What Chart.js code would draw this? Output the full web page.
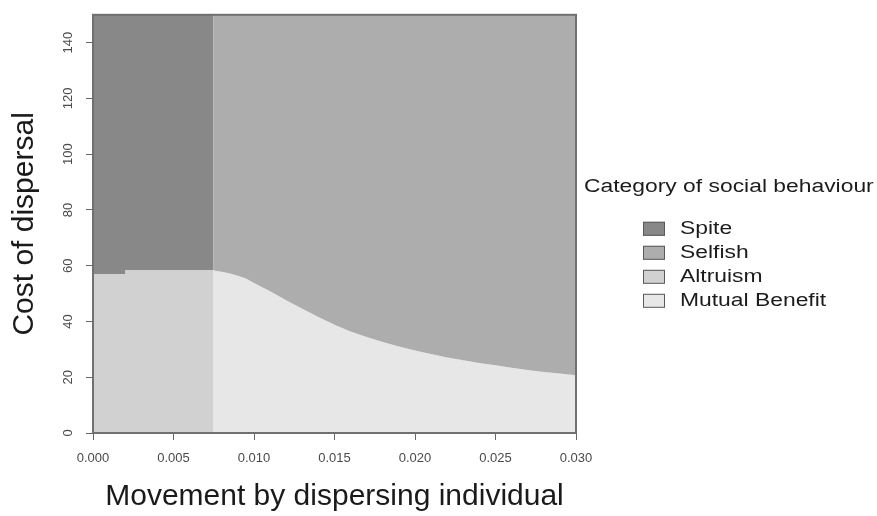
<!DOCTYPE html>
<html>
<head>
<meta charset="utf-8">
<script src="https://cdn.jsdelivr.net/npm/chart.js@4/dist/chart.umd.min.js"></script>
<style>
  html, body { margin: 0; padding: 0; background: #fff; }
  #wrap { width: 877px; height: 516px; }
</style>
</head>
<body>
<div id="wrap"><canvas id="socialChart" width="877" height="516"></canvas></div>
<script>
// boundary between spite (above) and altruism (below), low movement side
const altruismEdgeX = [0.000, 0.002, 0.0075];
const altruismEdgeCost = [57.0, 58.5, 58.5];

// boundary between selfish (above) and mutual benefit (below)
const mutualEdgeX = [0.0075, 0.008, 0.0085, 0.009, 0.0095, 0.010, 0.011, 0.012, 0.013, 0.014,
                     0.015, 0.016, 0.017, 0.018, 0.019, 0.020, 0.021, 0.022, 0.023, 0.024,
                     0.025, 0.026, 0.027, 0.028, 0.029, 0.030];
const mutualEdgeCost = [58.3, 57.8, 57.2, 56.4, 55.4, 53.8, 50.8, 47.6, 44.6, 41.6,
                        38.8, 36.4, 34.4, 32.6, 31.0, 29.6, 28.3, 27.1, 26.1, 25.1,
                        24.3, 23.4, 22.6, 21.9, 21.3, 20.7];

const categories = ['Spite', 'Selfish', 'Altruism', 'Mutual Benefit'];
const categoryColors = ['#888888', '#adadad', '#d1d1d1', '#e7e7e7'];

const xTicks = [0, 0.005, 0.010, 0.015, 0.020, 0.025, 0.030];
const yTicks = [0, 20, 40, 60, 80, 100, 120, 140];

const FONT = "'Liberation Sans', Arial, sans-serif";

function toPoints(xs, ys) {
    return xs.map((x, i) => ({ x: x, y: ys[i] }));
}

function region(label, xs, ys, fill, stepped) {
    const i = categories.indexOf(label);
    return {
        label: label,
        data: toPoints(xs, ys),
        fill: fill,
        stepped: stepped,
        backgroundColor: categoryColors[i],
        borderColor: 'rgba(0, 0, 0, 0)',
        borderWidth: 0,
        pointRadius: 0,
        tension: 0
    };
}

// frame round the plotting region
const plotFrame = {
    id: 'plotFrame',
    afterDatasetsDraw(chart) {
        const { ctx, chartArea: a } = chart;
        ctx.save();
        ctx.strokeStyle = '#707070';
        ctx.lineWidth = 2;
        ctx.strokeRect(a.left, a.top, a.right - a.left, a.bottom - a.top);
        ctx.restore();
    }
};

// legend to the right, text set wide like the exported figure
const categoryLegend = {
    id: 'categoryLegend',
    afterDraw(chart) {
        const { ctx, chartArea: a } = chart;
        const stretch = 1.27;
        const wideText = (text, x, y) => {
            ctx.save();
            ctx.translate(x, y);
            ctx.scale(stretch, 1);
            ctx.fillText(text, 0, 0);
            ctx.restore();
        };
        ctx.save();
        ctx.font = '18px ' + FONT;
        ctx.fillStyle = '#1c1c1c';
        ctx.textBaseline = 'middle';
        ctx.textAlign = 'left';
        wideText('Category of social behaviour', a.right + 8, a.top + 172);

        chart.data.datasets.forEach((ds, i) => {
            const y = a.top + 214 + i * 24;
            ctx.fillStyle = ds.backgroundColor;
            ctx.fillRect(a.right + 67, y - 7, 22, 14);
            ctx.strokeStyle = '#5a5a5a';
            ctx.lineWidth = 1;
            ctx.strokeRect(a.right + 67.5, y - 6.5, 21, 13);
            ctx.fillStyle = '#1c1c1c';
            wideText(ds.label, a.right + 104, y);
        });
        ctx.restore();
    }
};

const config = {
    type: 'line',
    data: {
        datasets: [
            region('Spite', altruismEdgeX, altruismEdgeCost, 'end', true),
            region('Selfish', mutualEdgeX, mutualEdgeCost, 'end', false),
            region('Altruism', altruismEdgeX, altruismEdgeCost, 'origin', true),
            region('Mutual Benefit', mutualEdgeX, mutualEdgeCost, 'origin', false)
        ]
    },
    options: {
        responsive: false,
        animation: false,
        layout: { padding: { left: 0, right: 301, top: 14, bottom: 0 } },
        plugins: {
            legend: { display: false },
            tooltip: { enabled: false }
        },
        scales: {
            x: {
                type: 'linear',
                min: 0,
                max: 0.03,
                afterBuildTicks: s => { s.ticks = xTicks.map(v => ({ value: v })); },
                afterFit: s => { s.height = 83; },
                border: { display: false },
                grid: { drawOnChartArea: false, drawTicks: true, tickLength: 7, color: '#666666' },
                ticks: {
                    autoSkip: false,
                    maxRotation: 0,
                    padding: 11,
                    color: '#4a4a4a',
                    font: { family: FONT, size: 13 },
                    callback: v => Number(v).toFixed(3)
                },
                title: {
                    display: true,
                    text: 'Movement by dispersing individual',
                    color: '#1a1a1a',
                    font: { family: FONT, size: 30, lineHeight: 1.2 },
                    padding: { top: 0, bottom: 1 }
                }
            },
            y: {
                type: 'linear',
                min: 0,
                max: 150,
                afterBuildTicks: s => { s.ticks = yTicks.map(v => ({ value: v })); },
                afterFit: s => { s.width = 93; },
                border: { display: false },
                grid: { drawOnChartArea: false, drawTicks: true, tickLength: 7, color: '#666666' },
                ticks: {
                    minRotation: 90,
                    maxRotation: 90,
                    crossAlign: 'center',
                    padding: 7,
                    color: '#4a4a4a',
                    font: { family: FONT, size: 13 }
                },
                title: {
                    display: true,
                    text: 'Cost of dispersal',
                    color: '#1a1a1a',
                    font: { family: FONT, size: 30, lineHeight: 1.2 },
                    padding: { top: 7, bottom: 0 }
                }
            }
        }
    },
    plugins: [plotFrame, categoryLegend]
};

new Chart(document.getElementById('socialChart'), config);
</script>
</body>
</html>
